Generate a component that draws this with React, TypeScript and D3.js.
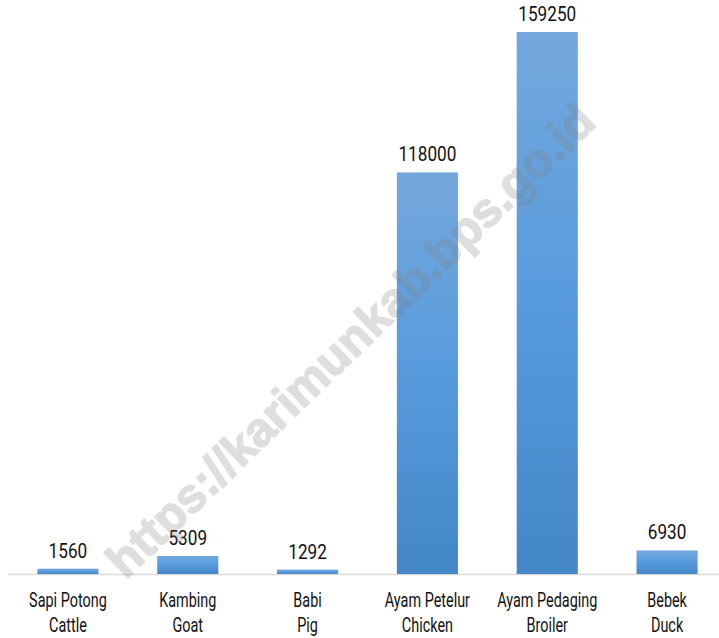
import React from "react";
import * as d3 from "d3";

const categories = ["Sapi Potong", "Kambing", "Babi", "Ayam Petelur", "Ayam Pedaging", "Bebek"];
const categoriesEn = ["Cattle", "Goat", "Pig", "Chicken", "Broiler", "Duck"];
const values = [1560, 5309, 1292, 118000, 159250, 6930];
const watermark = "https://karimunkab.bps.go.id";

const W = 719;
const H = 638;
const FONT = "Roboto, 'DejaVu Sans', sans-serif";

export default function App() {
  const x = d3.scaleBand<string>().domain(categories).range([8, 727]).paddingInner(0.49).paddingOuter(0.245);
  const baseY = 574;
  const y = d3.scaleLinear().domain([0, 159250]).range([baseY, 32]);
  return (
    <svg width={W} height={H} style={{ position: "absolute", left: 0, top: 0, display: "block" }}>
      <defs>
        <linearGradient id="barGrad" x1="0" y1="0" x2="0" y2="1">
          <stop offset="0%" stopColor="#74a8dc" />
          <stop offset="50%" stopColor="#579bdd" />
          <stop offset="100%" stopColor="#4487c6" />
        </linearGradient>
      </defs>
      <rect x={0} y={0} width={W} height={H} fill="#fff" />
      <line x1={8} x2={W} y1={baseY + 0.5} y2={baseY + 0.5} stroke="#d9d9d9" strokeWidth={1.5} />
      {categories.map((c, i) => {
        const bx = x(c)!;
        const by = y(values[i]);
        const cx = bx + x.bandwidth() / 2;
        return (
          <g key={c}>
            <rect x={bx} y={by} width={x.bandwidth()} height={baseY - by} fill="url(#barGrad)" />
            <g transform={`translate(${cx},${by - 11}) scale(0.86,1)`}>
              <text x={0} y={0} textAnchor="middle" fontFamily={FONT} fontSize={20} fill="#111">
                {values[i]}
              </text>
            </g>
            <g transform={`translate(${cx},607) scale(0.74,1)`}>
              <text x={0} y={0} textAnchor="middle" fontFamily={FONT} fontSize={19.5} fill="#111">
                {c}
              </text>
            </g>
            <g transform={`translate(${cx},632) scale(0.74,1)`}>
              <text x={0} y={0} textAnchor="middle" fontFamily={FONT} fontSize={19.5} fill="#111">
                {categoriesEn[i]}
              </text>
            </g>
          </g>
        );
      })}
      <g opacity={0.25}>
        <text
          x={350}
          y={357}
          textAnchor="middle"
          fontFamily="'Liberation Sans', Arial, sans-serif"
          fontWeight="bold"
          fontSize={48}
          fill="#808080"
          stroke="#808080"
          strokeWidth={1.5}
          strokeLinejoin="round"
          transform="rotate(-44 350 340)"
        >
          {watermark}
        </text>
      </g>
    </svg>
  );
}
